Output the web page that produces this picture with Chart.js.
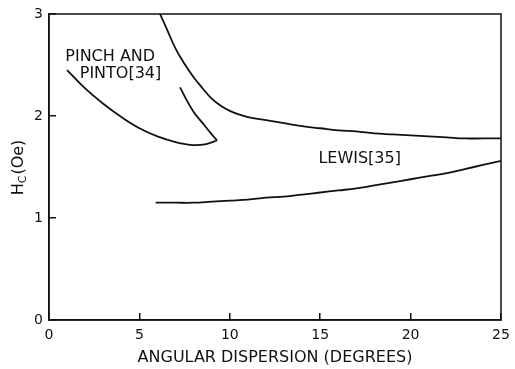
<!DOCTYPE html>
<html>
<head>
<meta charset="utf-8">
<script src="https://cdn.jsdelivr.net/npm/chart.js@4"></script>
<style>
  html, body { margin: 0; padding: 0; background: #fff; }
  #chart { display: block; }
</style>
</head>
<body>
<canvas id="chart" width="515" height="369"></canvas>
<script>
// Dados (graus, Oe)
const xTicks = [0, 5, 10, 15, 20, 25];
const yTicks = [0, 1, 2, 3];

// curva de cima (sem rótulo)
const topX = [6.14, 6.5, 7.0, 7.5, 8.0, 8.5, 9.0, 9.5, 10.0, 10.5, 11.0, 12, 13, 14, 15, 16, 17, 18, 19, 20, 21, 22, 23, 24, 25];
const topY = [3.0, 2.86, 2.66, 2.51, 2.38, 2.27, 2.17, 2.10, 2.05, 2.015, 1.99, 1.96, 1.93, 1.9, 1.88, 1.86, 1.85, 1.83, 1.82, 1.81, 1.80, 1.79, 1.78, 1.78, 1.78];

// Pinch and Pinto [34] - ramo de baixo e ramo de volta
const pinchLowX = [1.0, 2.0, 3.0, 4.0, 5.0, 6.0, 7.0, 8.0, 8.7, 9.3];
const pinchLowY = [2.45, 2.27, 2.12, 1.99, 1.88, 1.80, 1.745, 1.715, 1.725, 1.76];
const pinchBackX = [9.3, 9.0, 8.5, 8.0, 7.6, 7.25];
const pinchBackY = [1.76, 1.82, 1.93, 2.04, 2.16, 2.28];

// Lewis [35]
const lewisX = [5.9, 7, 8, 9, 10, 11, 12, 13, 14, 15, 16, 17, 18, 19, 20, 21, 22, 23, 24, 25];
const lewisY = [1.15, 1.15, 1.15, 1.16, 1.17, 1.18, 1.2, 1.21, 1.23, 1.25, 1.27, 1.29, 1.32, 1.35, 1.38, 1.41, 1.44, 1.48, 1.52, 1.56];

// Rótulos dentro do gráfico (coordenadas em dados)
const notes = [
  { text: 'PINCH AND', x: 0.9, y: 2.58 },
  { text: 'PINTO[34]', x: 1.7, y: 2.41 },
  { text: 'LEWIS[35]', x: 14.9, y: 1.58 }
];

const INK = '#111';
const FONT = '"DejaVu Sans", sans-serif';

function toPoints(xs, ys) {
  return xs.map((x, i) => ({ x: x, y: ys[i] }));
}

function lineSet(xs, ys) {
  return {
    data: toPoints(xs, ys),
    showLine: true,
    borderColor: INK,
    borderWidth: 1.8,
    pointRadius: 0,
    tension: 0.4,
    fill: false
  };
}

// tira o espaço extra que o Chart.js reserva para os rótulos das pontas
function noOverhang(scale) {
  scale.paddingLeft = 0;
  scale.paddingRight = 0;
  scale.paddingTop = 0;
  scale.paddingBottom = 0;
}

// Moldura + rótulos + título do eixo y com subscrito
const extrasPlugin = {
  id: 'extras',
  afterDraw(chart) {
    const { ctx, chartArea, scales } = chart;
    ctx.save();
    ctx.strokeStyle = INK;
    ctx.lineWidth = 1.5;
    ctx.strokeRect(chartArea.left, chartArea.top, chartArea.right - chartArea.left, chartArea.bottom - chartArea.top);

    ctx.fillStyle = INK;
    ctx.font = '16px ' + FONT;
    ctx.textBaseline = 'middle';
    ctx.textAlign = 'left';
    notes.forEach(n => {
      ctx.fillText(n.text, scales.x.getPixelForValue(n.x), scales.y.getPixelForValue(n.y));
    });

    // H_C(Oe) rodado
    ctx.translate(19, 168);
    ctx.rotate(-Math.PI / 2);
    ctx.font = '16px ' + FONT;
    const wH = ctx.measureText('H').width;
    const wRest = ctx.measureText('(Oe)').width;
    ctx.font = '11px ' + FONT;
    const wC = ctx.measureText('C').width;
    let x0 = -(wH + wC + wRest) / 2;
    ctx.textAlign = 'left';
    ctx.font = '16px ' + FONT;
    ctx.fillText('H', x0, 0);
    ctx.font = '11px ' + FONT;
    ctx.fillText('C', x0 + wH, 4);
    ctx.font = '16px ' + FONT;
    ctx.fillText('(Oe)', x0 + wH + wC + 1, 0);
    ctx.restore();
  }
};

new Chart(document.getElementById('chart').getContext('2d'), {
  type: 'scatter',
  data: {
    datasets: [
      lineSet(topX, topY),
      lineSet(pinchLowX, pinchLowY),
      lineSet(pinchBackX, pinchBackY),
      lineSet(lewisX, lewisY)
    ]
  },
  options: {
    responsive: false,
    animation: false,
    devicePixelRatio: 1,
    layout: { padding: { top: 14, right: 14, left: 0, bottom: 0 } },
    plugins: { legend: { display: false }, tooltip: { enabled: false } },
    scales: {
      x: {
        type: 'linear',
        min: 0,
        max: 25,
        afterBuildTicks: scale => { scale.ticks = xTicks.map(v => ({ value: v })); },
        afterFit: scale => { scale.height = 49; noOverhang(scale); },
        grid: { drawOnChartArea: false, tickLength: -7, color: INK, lineWidth: 1.5 },
        border: { color: INK, width: 1.5 },
        ticks: { color: INK, padding: 14, font: { family: FONT, size: 14 } },
        title: {
          display: true,
          text: 'ANGULAR DISPERSION (DEGREES)',
          color: INK,
          font: { family: FONT, size: 16 },
          padding: { top: 0, bottom: 2 }
        }
      },
      y: {
        type: 'linear',
        min: 0,
        max: 3,
        afterBuildTicks: scale => { scale.ticks = yTicks.map(v => ({ value: v })); },
        afterFit: scale => { scale.width = 49; noOverhang(scale); },
        grid: { drawOnChartArea: false, tickLength: -7, color: INK, lineWidth: 1.5 },
        border: { color: INK, width: 1.5 },
        ticks: { color: INK, padding: 13, font: { family: FONT, size: 14 } }
      }
    }
  },
  plugins: [extrasPlugin]
});
</script>
</body>
</html>
